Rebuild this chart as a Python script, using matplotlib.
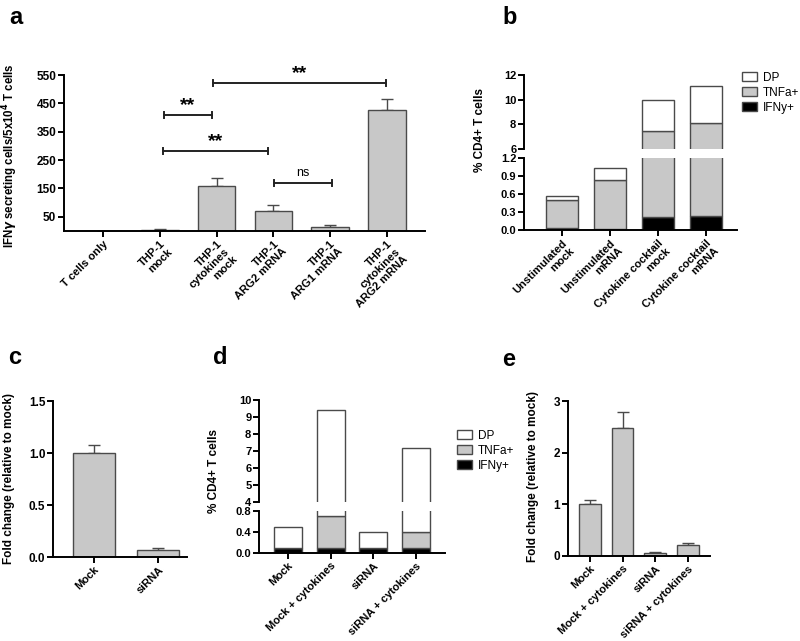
import numpy as np
import matplotlib
matplotlib.use("Agg")
import matplotlib.pyplot as plt
from matplotlib.patches import Patch

plt.rcParams['font.family'] = ['Liberation Sans', 'DejaVu Sans']
plt.rcParams['font.weight'] = 'bold'
plt.rcParams['axes.linewidth'] = 1.4
plt.rcParams['xtick.major.width'] = 1.4
plt.rcParams['ytick.major.width'] = 1.4
plt.rcParams['xtick.major.size'] = 4
plt.rcParams['ytick.major.size'] = 4
plt.rcParams['xtick.labelsize'] = 8
plt.rcParams['ytick.labelsize'] = 8.5

# --- данные ---
a_labels = ["T cells only", "THP-1\nmock", "THP-1\ncytokines\nmock",
            "THP-1\nARG2 mRNA", "THP-1\nARG1 mRNA", "THP-1\ncytokines\nARG2 mRNA"]
a_mean = [0, 4, 157, 69, 14, 428]
a_err = [0, 3, 30, 22, 6, 38]

b_labels = ["Unstimulated\nmock", "Unstimulated\nmRNA",
            "Cytokine cocktail\nmock", "Cytokine cocktail\nmRNA"]
b_ifng = [0.03, 0.02, 0.22, 0.24]
b_tnfa = [0.47, 0.82, 7.26, 7.88]
b_dp = [0.07, 0.20, 2.52, 2.98]

c_labels = ["Mock", "siRNA"]
c_mean = [1.0, 0.065]
c_err = [0.08, 0.02]

d_labels = ["Mock", "Mock + cytokines", "siRNA", "siRNA + cytokines"]
d_ifng = [0.1, 0.1, 0.1, 0.1]
d_tnfa = [0.0, 0.6, 0.0, 0.3]
d_dp = [0.4, 8.7, 0.3, 6.8]

e_labels = ["Mock", "Mock + cytokines", "siRNA", "siRNA + cytokines"]
e_mean = [1.0, 2.48, 0.05, 0.21]
e_err = [0.08, 0.30, 0.02, 0.04]

W, H = 800, 641
BAR_GRAY = '#c8c8c8'
EDGE = '#4a4a4a'

fig = plt.figure(figsize=(W / 100, H / 100), dpi=100)


def px_axes(left, top, right, bottom):
    return fig.add_axes([left / W, 1 - bottom / H, (right - left) / W, (bottom - top) / H])


def style(ax, bottom=True, ysize=8.5):
    ax.spines['top'].set_visible(False)
    ax.spines['right'].set_visible(False)
    if not bottom:
        ax.spines['bottom'].set_visible(False)
        ax.set_xticks([])
    ax.tick_params(direction='out', pad=1.5)
    ax.tick_params(axis='y', labelsize=ysize)


def xlabels(ax, labels):
    ax.set_xticks(range(len(labels)))
    ax.set_xticklabels(labels, rotation=45, ha='right', rotation_mode='anchor',
                       multialignment='right', fontweight='bold', fontsize=8,
                       linespacing=1.1)


def simple_bars(ax, mean, err):
    x = np.arange(len(mean))
    ax.bar(x, mean, width=0.66, color=BAR_GRAY, edgecolor=EDGE, linewidth=1.0, zorder=2)
    ax.errorbar(x, mean, yerr=[np.zeros(len(err)), err], fmt='none',
                ecolor=EDGE, elinewidth=1.0, capsize=4.5, capthick=1.0, zorder=1)


def stacked(ax, ifng, tnfa, dp):
    x = np.arange(len(ifng))
    ifng = np.array(ifng)
    tnfa = np.array(tnfa)
    ax.bar(x, ifng, width=0.66, color='black', edgecolor=EDGE, linewidth=1.0)
    ax.bar(x, tnfa, bottom=ifng, width=0.66, color=BAR_GRAY, edgecolor=EDGE, linewidth=1.0)
    ax.bar(x, dp, bottom=ifng + tnfa, width=0.66, color='white', edgecolor=EDGE, linewidth=1.0)


def legend_stack(x, y):
    handles = [Patch(facecolor='white', edgecolor=EDGE, label='DP'),
               Patch(facecolor=BAR_GRAY, edgecolor=EDGE, label='TNFa+'),
               Patch(facecolor='black', edgecolor=EDGE, label='IFNy+')]
    fig.legend(handles=handles, loc='upper left', bbox_to_anchor=(x / W, 1 - y / H),
               frameon=False, prop={'weight': 'normal', 'size': 8.5},
               handlelength=1.3, handleheight=0.8, labelspacing=0.25,
               handletextpad=0.45, borderaxespad=0, borderpad=0)


# ---------- a ----------
ax = px_axes(64, 75, 425, 231)
simple_bars(ax, a_mean, a_err)
ax.set_xlim(-0.69, 5.67)
ax.set_ylim(0, 550)
ax.set_yticks([50, 150, 250, 350, 450, 550])
style(ax)
xlabels(ax, a_labels)

# скобки значимости
brackets = [(1.07, 1.92, 408, '**'), (1.06, 2.90, 282, '**'),
            (3.01, 4.03, 169, 'ns'), (1.94, 4.98, 521, '**')]
for x0, x1, yb, txt in brackets:
    ax.plot([x0, x1], [yb, yb], color='#222222', lw=1.4, clip_on=False)
    for xx in (x0, x1):
        ax.plot([xx, xx], [yb - 10, yb + 10], color='#222222', lw=1.4, clip_on=False)
    if txt == 'ns':
        ax.text((x0 + x1) / 2, yb + 14, txt, ha='center', va='bottom',
                fontsize=9, fontweight='normal', clip_on=False)
    else:
        ax.text((x0 + x1) / 2, yb + 4, txt, ha='center', va='bottom',
                fontsize=14, fontweight='bold', clip_on=False)

fig.text(10 / W, 1 - 156 / H, r'IFN$\gamma$ secreting cells/5x10$^4$ T cells',
         rotation=90, ha='center', va='center', fontsize=8.3, fontweight='bold')

# ---------- b ----------
ax_lo = px_axes(524, 158, 737, 230)
ax_hi = px_axes(524, 75, 737, 149)
for a_ in (ax_lo, ax_hi):
    stacked(a_, b_ifng, b_tnfa, b_dp)
    a_.set_xlim(-0.79, 3.65)
ax_lo.set_ylim(0, 1.2)
ax_lo.set_yticks([0.0, 0.3, 0.6, 0.9, 1.2])
ax_lo.set_yticklabels(['0.0', '0.3', '0.6', '0.9', '1.2'])
ax_hi.set_ylim(6, 12)
ax_hi.set_yticks([6, 8, 10, 12])
style(ax_lo, ysize=8)
style(ax_hi, bottom=False, ysize=8)
xlabels(ax_lo, b_labels)
legend_stack(742, 72)
fig.text(480 / W, 1 - 130 / H, '% CD4+ T cells', rotation=90, ha='center',
         va='center', fontsize=8.5, fontweight='bold')

# ---------- c ----------
ax = px_axes(53, 401, 187, 557)
simple_bars(ax, c_mean, c_err)
ax.set_xlim(-0.64, 1.45)
ax.set_ylim(0, 1.5)
ax.set_yticks([0.0, 0.5, 1.0, 1.5])
ax.set_yticklabels(['0.0', '0.5', '1.0', '1.5'])
style(ax)
xlabels(ax, c_labels)
fig.text(9 / W, 1 - 478 / H, 'Fold change (relative to mock)', rotation=90,
         ha='center', va='center', fontsize=8.5, fontweight='bold')

# ---------- d ----------
ax_lo = px_axes(259, 511, 445, 553)
ax_hi = px_axes(259, 400, 445, 502)
for a_ in (ax_lo, ax_hi):
    stacked(a_, d_ifng, d_tnfa, d_dp)
    a_.set_xlim(-0.68, 3.68)
ax_lo.set_ylim(0, 0.8)
ax_lo.set_yticks([0.0, 0.4, 0.8])
ax_lo.set_yticklabels(['0.0', '0.4', '0.8'])
ax_hi.set_ylim(4, 10)
ax_hi.set_yticks(range(4, 11))
style(ax_lo, ysize=8)
style(ax_hi, bottom=False, ysize=8)
xlabels(ax_lo, d_labels)
legend_stack(457, 430)
fig.text(214 / W, 1 - 471 / H, '% CD4+ T cells', rotation=90, ha='center',
         va='center', fontsize=8.5, fontweight='bold')

# ---------- e ----------
ax = px_axes(568, 401, 710, 556)
simple_bars(ax, e_mean, e_err)
ax.set_xlim(-0.67, 3.68)
ax.set_ylim(0, 3)
ax.set_yticks([0, 1, 2, 3])
style(ax)
xlabels(ax, e_labels)
fig.text(533 / W, 1 - 476 / H, 'Fold change (relative to mock)', rotation=90,
         ha='center', va='center', fontsize=8.5, fontweight='bold')

# буквы панелей
for lbl, x, y in [('a', 9, 17), ('b', 502, 17), ('c', 8, 358), ('d', 213, 358), ('e', 502, 360)]:
    fig.text(x / W, 1 - y / H, lbl, ha='left', va='center', fontsize=17, fontweight='bold')

fig.savefig('out.png', dpi=100, facecolor='white')
